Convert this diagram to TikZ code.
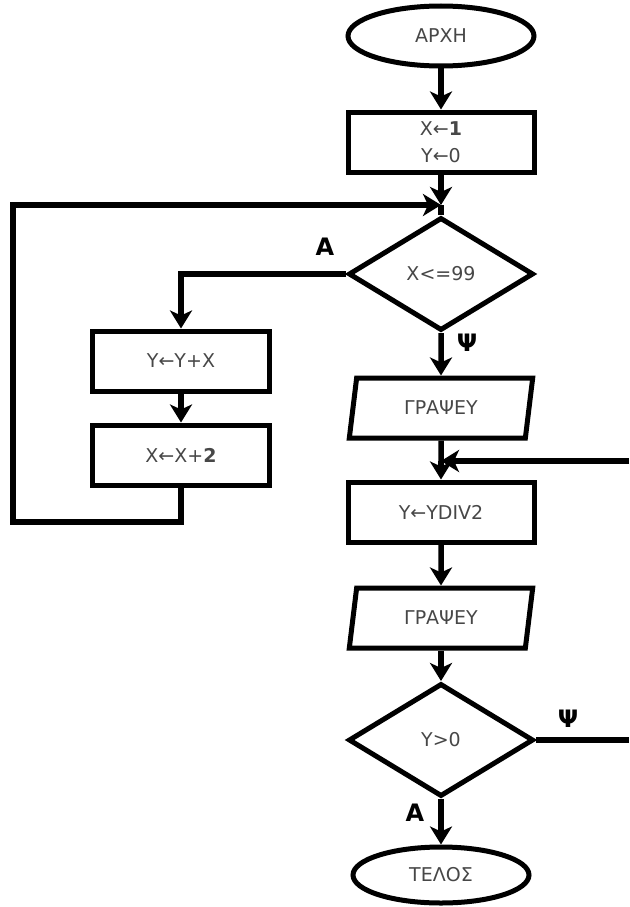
\documentclass[tikz,border=0pt]{standalone}
\usepackage{fontspec}
\setmainfont{DejaVu Sans}
\usetikzlibrary{shapes.geometric,arrows.meta,positioning}
\tikzset{%
  every flow/.style={
    draw,
    line width=5pt,
    inner sep=0pt,
    text=black!72,
    font=\fontsize{19}{27}\selectfont
  },
  flow terminal/.style={every flow, ellipse, minimum width=186pt, minimum height=60pt},
  flow box/.style={every flow, rectangle, minimum width=186pt, minimum height=60pt, align=center},
  flow io/.style={every flow, trapezium, trapezium left angle=77, trapezium right angle=103,
    trapezium stretches=true, minimum width=185pt, minimum height=60pt},
  flow test/.style={every flow, diamond, minimum width=185pt, minimum height=113pt},
  flow label/.style={font=\bfseries\fontsize{24}{26}\selectfont},
}
\begin{document}
\begin{tikzpicture}[x=1pt, y=-1pt, line width=5.5pt, >={Stealth[length=18pt,width=22pt,inset=5pt]}]
\useasboundingbox (0,0) rectangle (629,907);

% main column
\node [flow terminal] (start) at (441,36) {ΑΡΧΗ};
\node [flow box] (init) at (441,142) {X←\textbf{1}\\Y←0};
\coordinate (loop-in) at (441,205);
\node [flow test] (test-x) at (441,274) {X<=99};
\node [flow io] (print-1) at (441,408) {ΓΡΑΨΕΥ};
\coordinate (back-in) at (441,461);
\node [flow box] (halve) at (441,512) {Y←YDIV2};
\node [flow io] (print-2) at (441,618) {ΓΡΑΨΕΥ};
\node [flow test] (test-y) at (441,740) {Y>0};
\node [flow terminal, minimum width=176pt, minimum height=56pt] (stop) at (441,875) {ΤΕΛΟΣ};

% loop body
\node [flow box, minimum width=177pt] (add) at (181,361) {Y←Y+X};
\node [flow box, minimum width=177pt] (next) at (181,455) {X←X+\textbf{2}};

% right edge
\coordinate (edge-in) at (629,461);
\coordinate (edge-out) at (629,740);

\draw [->] (start) -- (init);
\draw [->] (init) -- (loop-in);
\draw (loop-in) -- (test-x.north);
\draw [->] (test-x.south) -- (print-1.north);
\draw (print-1.south) -- (back-in);
\draw [->] (back-in) -- (halve.north);
\foreach \a/\b in {halve/print-2, print-2/test-y}
  \draw [->] (\a) -- (\b.north);
\draw [->] (test-y.south) -- (stop.north);

\draw [->] (test-x.west) -| (add.north);
\draw [->] (add) -- (next);
\draw [->] (next.south) -- (181,522) -| (13,205) -- (loop-in);

\draw [->] (edge-in) -- (back-in);
\draw (test-y.east) -- (edge-out);

\node [flow label] (yes-x) at (325,247) {Α};
\node [flow label] (no-x) at (467,343) {Ψ};
\node [flow label] (no-y) at (568,719) {Ψ};
\node [flow label] (yes-y) at (415,813) {Α};

\end{tikzpicture}
\end{document}
